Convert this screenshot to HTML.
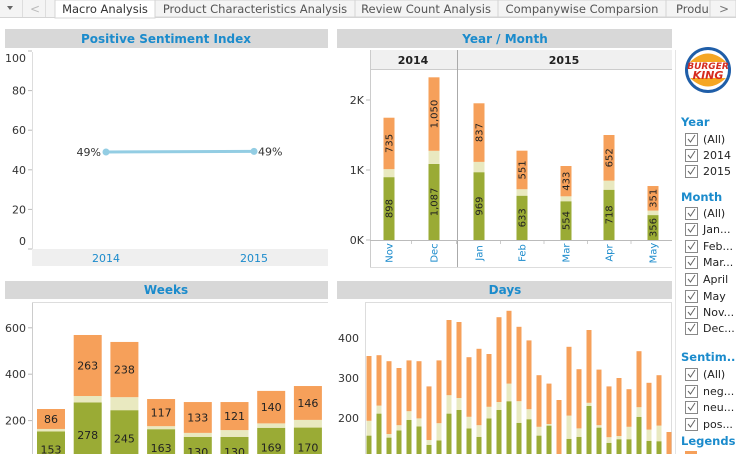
<!DOCTYPE html>
<html><head><meta charset="utf-8"><style>
html,body{margin:0;padding:0;background:#fff;width:736px;height:454px;overflow:hidden}
svg{display:block;font-family:"DejaVu Sans","Liberation Sans",sans-serif;overflow:hidden}
</style></head><body>
<svg id="s" width="736" height="454" viewBox="0 0 736 454">
<g>
<rect x="0" y="0" width="736" height="17" fill="#f4f4f4"/>
<line x1="0" y1="17.5" x2="736" y2="17.5" stroke="#d4d4d4"/>
<path d="M7 6 L13 6 L10 10 Z" fill="#666"/>
<line x1="22.5" y1="0" x2="22.5" y2="17" stroke="#ddd"/>
<text x="30" y="13" font-size="12" fill="#bbb">&lt;</text>
<line x1="45.5" y1="0" x2="45.5" y2="17" stroke="#ddd"/>
<rect x="55" y="0" width="100" height="18" fill="#fff" stroke="#d4d4d4"/>
<text x="105" y="13" font-size="11.5" fill="#333" text-anchor="middle">Macro Analysis</text>
<rect x="155" y="0" width="200" height="17" fill="#f4f4f4" stroke="#d4d4d4"/>
<text x="255" y="13" font-size="11.5" fill="#555" text-anchor="middle">Product Characteristics Analysis</text>
<rect x="355" y="0" width="143" height="17" fill="#f4f4f4" stroke="#d4d4d4"/>
<text x="426" y="13" font-size="11.5" fill="#555" text-anchor="middle">Review Count Analysis</text>
<rect x="498" y="0" width="168" height="17" fill="#f4f4f4" stroke="#d4d4d4"/>
<text x="582" y="13" font-size="11.5" fill="#555" text-anchor="middle">Companywise Comparsion</text>
<rect x="666" y="0" width="46" height="17" fill="#f4f4f4" stroke="#d4d4d4"/>
<text x="676" y="13" font-size="11.5" fill="#555">Produ</text>
<rect x="710" y="0" width="26" height="17" fill="#f4f4f4" stroke="#d4d4d4"/>
<text x="719" y="13" font-size="12" fill="#777">&gt;</text>
</g>

<rect x="5" y="29" width="323" height="19" fill="#d8d8d8"/>
<text x="166" y="43" font-size="12" font-weight="bold" fill="#1b8bcc" text-anchor="middle">Positive Sentiment Index</text>
<rect x="337" y="29" width="335" height="19" fill="#d8d8d8"/>
<text x="505" y="43" font-size="12" font-weight="bold" fill="#1b8bcc" text-anchor="middle">Year / Month</text>
<rect x="5" y="281" width="323" height="18" fill="#d8d8d8"/>
<text x="166" y="294" font-size="12" font-weight="bold" fill="#1b8bcc" text-anchor="middle">Weeks</text>
<rect x="337" y="281" width="335" height="18" fill="#d8d8d8"/>
<text x="505" y="294" font-size="12" font-weight="bold" fill="#1b8bcc" text-anchor="middle">Days</text>

<g id="psi"></g>
<g id="ym"></g>
<g id="wk"></g>
<g id="dy"></g>

<g>
<circle cx="708" cy="70" r="23" fill="#1f5ea8"/>
<circle cx="708" cy="70" r="20" fill="#fff"/>
<path d="M690 62 Q708 45 726 62 Z" fill="#f5a623"/>
<path d="M690 78 Q708 95 726 78 Z" fill="#f5a623"/>
<text x="708" y="69" font-size="9" font-weight="bold" fill="#d52b1e" text-anchor="middle" font-style="italic">BURGER</text>
<text x="708" y="79" font-size="11" font-weight="bold" fill="#d52b1e" text-anchor="middle" font-style="italic">KING</text>
</g>
<line x1="675.5" y1="50" x2="675.5" y2="454" stroke="#e4e4e4"/>
<g id="side"></g>
</svg>
<script>
const NS='http://www.w3.org/2000/svg';
function el(p,t,a,txt){const e=document.createElementNS(NS,t);for(const k in a)e.setAttribute(k,a[k]);if(txt!==undefined)e.textContent=txt;p.appendChild(e);return e;}
const GREEN='#9aab35',NEU='#e9e9c0',ORANGE='#f6a05a',BLUE='#1b8bcc';

const psiYears=['2014','2015'];
const psiValues=[49,49.3];
const psiTicks=[0,20,40,60,80,100];
(function(){
const g=document.getElementById('psi');
const y=v=>249-v*1.98, x=i=>106+i*148;
el(g,'rect',{x:32,y:249,width:296,height:17,fill:'#efefef'});
el(g,'line',{x1:32.5,y1:52,x2:32.5,y2:249,stroke:'#ddd'});
psiTicks.forEach(t=>{
  const ty=y(t);
  const lt=el(g,'text',{x:26,y:t===100?ty+11:(t===0?ty-4:ty+4),'font-size':11,fill:'#333','text-anchor':'end'},String(t));
  
  
  el(g,'line',{x1:28,y1:ty,x2:32,y2:ty,stroke:'#bbb'});
});
const pts=psiValues.map((v,i)=>x(i)+','+y(v)).join(' ');
const ln=el(g,'polyline',{points:pts,fill:'none',stroke:'#93cde3','stroke-width':3});


psiValues.forEach((v,i)=>{
  const c=el(g,'circle',{cx:x(i),cy:y(v),r:3.5,fill:'#93cde3'});
  
  
  const lb=el(g,'text',{x:i===0?x(i)-5:x(i)+4,y:y(v)+4,'font-size':11,fill:'#333','text-anchor':i===0?'end':'start'},Math.round(v)+'%');
  
  
  const xl=el(g,'text',{x:x(i),y:262,'font-size':11,fill:BLUE,'text-anchor':'middle'},psiYears[i]);
  
  
});
})();

const ymMonths=['Nov','Dec','Jan','Feb','Mar','Apr','May'];
const ymYears=['2014','2014','2015','2015','2015','2015','2015'];
const ymPos=[898,1087,969,633,554,718,356];
const ymNeu=[114,187,147,92,70,130,64];
const ymNeg=[735,1050,837,551,433,652,351];
const ymTicks=[0,1000,2000];
const ymTickLabels=['0K','1K','2K'];
(function(){
const g=document.getElementById('ym');
const y=v=>240-v*0.07;
const cx=[389,434,479,522,566,609,653];
el(g,'rect',{x:370,y:50,width:302,height:19,fill:'#f0f0f0'});
el(g,'line',{x1:370,y1:69.5,x2:672,y2:69.5,stroke:'#ccc'});
el(g,'line',{x1:370.5,y1:50,x2:370.5,y2:268,stroke:'#ccc'});
el(g,'line',{x1:457.5,y1:50,x2:457.5,y2:268,stroke:'#aaa'});
el(g,'line',{x1:370,y1:240.5,x2:672,y2:240.5,stroke:'#bbb'});
el(g,'line',{x1:370,y1:267.5,x2:672,y2:267.5,stroke:'#ddd'});
const h1=el(g,'text',{x:413,y:64,'font-size':11,'font-weight':'bold',fill:'#222','text-anchor':'middle'},'2014');


const h2=el(g,'text',{x:564,y:64,'font-size':11,'font-weight':'bold',fill:'#222','text-anchor':'middle'},'2015');


ymTicks.forEach((t,i)=>{
  const tl=el(g,'text',{x:364,y:y(t)+4,'font-size':11,fill:'#333','text-anchor':'end'},ymTickLabels[i]);
  
  
  el(g,'line',{x1:366,y1:y(t),x2:370,y2:y(t),stroke:'#bbb'});
});
ymMonths.forEach((m,i)=>{
  const w=11,x0=cx[i]-w/2;
  const p=ymPos[i],n=ymNeu[i],ng=ymNeg[i];
  const b1=el(g,'rect',{x:x0,y:y(p),width:w,height:p*0.07,fill:GREEN});
  
  
  const b2=el(g,'rect',{x:x0,y:y(p+n),width:w,height:n*0.07,fill:NEU});
  
  
  const b3=el(g,'rect',{x:x0,y:y(p+n+ng),width:w,height:ng*0.07,fill:ORANGE});
  
  
  const f=v=>v.toLocaleString('en-US');
  const my1=(y(0)+y(p))/2, my3=(y(p+n)+y(p+n+ng))/2;
  const l1=el(g,'text',{x:0,y:0,'font-size':10,fill:'#222','text-anchor':'middle',transform:`translate(${cx[i]+3.5},${my1}) rotate(-90)`},f(p));
  
  
  const l3=el(g,'text',{x:0,y:0,'font-size':10,fill:'#222','text-anchor':'middle',transform:`translate(${cx[i]+3.5},${my3}) rotate(-90)`},f(ng));
  
  
  const xl=el(g,'text',{x:0,y:0,'font-size':10,fill:BLUE,'text-anchor':'middle',transform:`translate(${cx[i]+3.5},${253}) rotate(-90)`},m);
  
  
  if(i<6) el(g,'line',{x1:(cx[i]+cx[i+1])/2,y1:241,x2:(cx[i]+cx[i+1])/2,y2:244,stroke:'#ccc'});
});
})();

const wkNames=['w1','w2','w3','w4','w5','w6','w7','w8'];
const wkPos=[153,278,245,163,130,130,169,170];
const wkNeu=[11,28,56,13,17,29,19,33];
const wkNeg=[86,263,238,117,133,121,140,146];
const wkTicks=[200,400,600];
(function(){
const g=document.getElementById('wk');
const k=0.232,y=v=>467-v*k;
el(g,'line',{x1:32.5,y1:302,x2:32.5,y2:454,stroke:'#ccc'});
el(g,'line',{x1:32,y1:302.5,x2:328,y2:302.5,stroke:'#ddd'});
wkTicks.forEach(t=>{
  const tl=el(g,'text',{x:26,y:y(t)+4,'font-size':11,fill:'#333','text-anchor':'end'},String(t));
  
  
  el(g,'line',{x1:28,y1:y(t),x2:32,y2:y(t),stroke:'#bbb'});
});
wkNames.forEach((nm,i)=>{
  const cx=51+i*36.7,w=28,x0=cx-w/2;
  const p=wkPos[i],n=wkNeu[i],ng=wkNeg[i];
  const b1=el(g,'rect',{x:x0,y:y(p),width:w,height:p*k,fill:GREEN});
  
  
  const b2=el(g,'rect',{x:x0,y:y(p+n),width:w,height:n*k,fill:NEU});
  
  
  const b3=el(g,'rect',{x:x0,y:y(p+n+ng),width:w,height:ng*k,fill:ORANGE});
  
  
  const l1=el(g,'text',{x:cx,y:(y(0)+y(p))/2+4,'font-size':11,fill:'#222','text-anchor':'middle'},String(p));
  
  
  const l3=el(g,'text',{x:cx,y:(y(p+n)+y(p+n+ng))/2+4,'font-size':11,fill:'#222','text-anchor':'middle'},String(ng));
  
  
});
})();

const dyDays=['d1','d2','d3','d4','d5','d6','d7','d8','d9','d10','d11','d12','d13','d14','d15','d16','d17','d18','d19','d20','d21','d22','d23','d24','d25','d26','d27','d28','d29','d30','d31'];
const dyPos=[156,211,151,169,195,179,133,144,211,220,174,153,199,220,242,188,197,156,181,90,148,153,230,176,138,147,147,203,143,142,100];
const dyNeu=[37,20,9,13,22,20,12,43,46,30,29,29,29,20,44,54,25,22,4,10,58,21,8,6,14,8,31,24,28,39,10];
const dyNeg=[162,126,182,143,127,143,134,157,188,190,149,191,132,212,182,186,172,129,101,145,172,148,182,139,127,145,94,140,117,126,55];
const dyTicks=[200,300,400];
(function(){
const g=document.getElementById('dy');
const k=0.4,y=v=>498-v*k;
el(g,'rect',{x:365.5,y:302.5,width:306,height:160,fill:'none',stroke:'#ddd'});
dyTicks.forEach(t=>{
  const tl=el(g,'text',{x:359,y:y(t)+4,'font-size':11,fill:'#333','text-anchor':'end'},String(t));
  
  
});
dyDays.forEach((nm,i)=>{
  const cx=369+i*10,w=5,x0=cx-w/2;
  const p=dyPos[i],n=dyNeu[i],ng=dyNeg[i];
  const b1=el(g,'rect',{x:x0,y:y(p),width:w,height:p*k,fill:GREEN});
  
  
  const b2=el(g,'rect',{x:x0,y:y(p+n),width:w,height:n*k,fill:NEU});
  
  
  const b3=el(g,'rect',{x:x0,y:y(p+n+ng),width:w,height:ng*k,fill:ORANGE});
  
  
});
})();

const filterItems=[
 ['h','Year',122],['c','(All)',139],['c','2014',155],['c','2015',171],
 ['h','Month',197],['c','(All)',213],['c','Jan...',229],['c','Feb...',246],['c','Mar...',262],['c','April',279],['c','May',296],['c','Nov...',312],['c','Dec...',328],
 ['h','Sentim...',357],['c','(All)',374],['c','neg...',391],['c','neu...',407],['c','pos...',424],
 ['h','Legends',441]];
(function(){
const g=document.getElementById('side');
let grp='';
filterItems.forEach(([t,lbl,yy])=>{
  if(t==='h'){
    grp=lbl.replace('...','').toLowerCase();
    const h=el(g,'text',{x:681,y:yy+4,'font-size':11.5,'font-weight':'bold',fill:BLUE},lbl);
    
    
  } else {
    const c=el(g,'rect',{x:685.5,y:yy-5.5,width:12,height:12,fill:'#fff',stroke:'#888'});
    
    
    el(g,'path',{d:`M688 ${yy} L690.5 ${yy+3} L695 ${yy-4}`,fill:'none',stroke:'#666','stroke-width':1});
    const tx=el(g,'text',{x:703,y:yy+4,'font-size':11,fill:'#222'},lbl);
    
    
  }
});
el(g,'rect',{x:685,y:451,width:12,height:3,fill:ORANGE});
})();
</script>
</body></html>
